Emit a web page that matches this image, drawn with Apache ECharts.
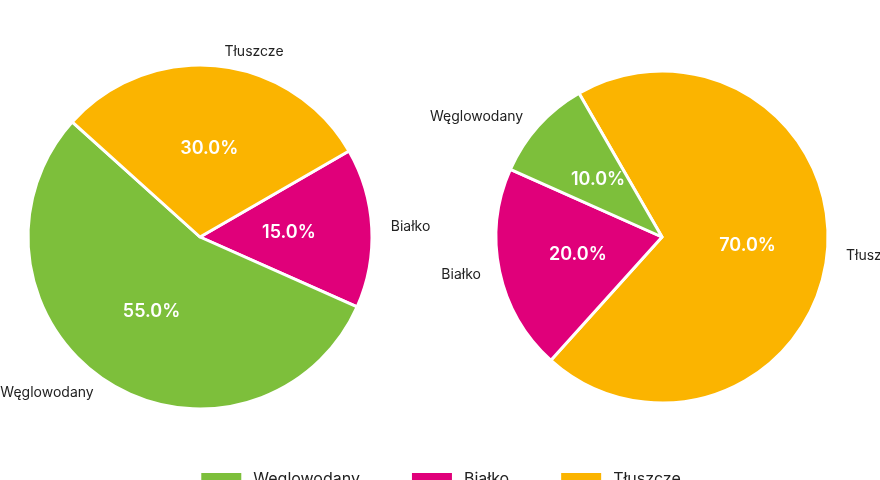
<!DOCTYPE html><html><head><meta charset="utf-8">
<script src="https://cdn.jsdelivr.net/npm/echarts@6/dist/echarts.min.js"></script>
<style>html,body{margin:0;background:#fff}#c{width:880px;height:480px}</style></head><body><div id="c"></div>
<script>
const names=['Węglowodany','Białko','Tłuszcze'];
const colors={'Węglowodany':'#7dbf3b','Białko':'#e0007a','Tłuszcze':'#fbb400'};
const leftOrder=['Białko','Węglowodany','Tłuszcze'];
const leftValues=[15,55,30];
const rightOrder=['Tłuszcze','Białko','Węglowodany'];
const rightValues=[70,20,10];
function mk(order,vals){return order.map((n,i)=>({name:n,value:vals[i],itemStyle:{color:colors[n]}}));}
function pair(center,r,start,order,vals){
 const base={type:'pie',center:center,radius:r,startAngle:start,clockwise:true,data:mk(order,vals),avoidLabelOverlap:false,
  itemStyle:{borderColor:'#fff',borderWidth:3},emphasis:{disabled:true}};
 return [
  Object.assign({},base,{label:{show:true,position:'outside',overflow:'none',color:'#222',fontSize:14,fontFamily:'Inter',formatter:'{b}'},labelLine:{show:false,length:14,length2:0}}),
  Object.assign({},base,{label:{show:true,position:'inside',color:'#fff',fontSize:18,fontWeight:600,fontFamily:'Inter',formatter:p=>p.value.toFixed(1)+'%'},labelLine:{show:false}})
 ];
}
const ch=echarts.init(document.getElementById('c'));
ch.setOption({animation:false,
 legend:{data:names,top:466,left:'center',itemWidth:42,itemHeight:14,itemGap:50,icon:'rect',textStyle:{fontSize:16,fontFamily:'Inter',color:'#222',padding:[0,0,0,6]}},
 series:[...pair([200,237],172,30,leftOrder,leftValues),...pair([662,237],166,120,rightOrder,rightValues)]});
</script></body></html>
